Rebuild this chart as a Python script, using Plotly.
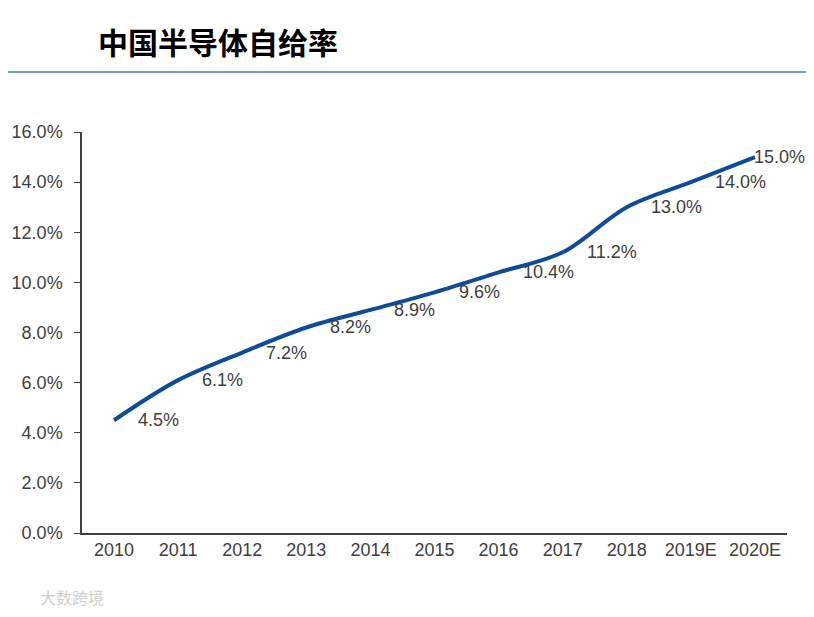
import plotly.graph_objects as go

years = ["2010", "2011", "2012", "2013", "2014", "2015", "2016", "2017", "2018", "2019E", "2020E"]
rates = [4.5, 6.1, 7.2, 8.2, 8.9, 9.6, 10.4, 11.2, 13.0, 14.0, 15.0]
label_texts = ["4.5%", "6.1%", "7.2%", "8.2%", "8.9%", "9.6%", "10.4%", "11.2%", "13.0%", "14.0%", "15.0%"]
label_shifts = [22, 22, 22, 22, 22, 22, 22, 22, 22, 22, -3]
title_text = "中国半导体自给率"
watermark_text = "大数跨境"

xi = list(range(len(years)))
# page has an 8px body margin; size the figure so page content is exactly 814x617
OFF = 8
W, H = 814 - 2 * OFF, 617 - 2 * OFF
L, T = 82 - OFF, 132 - OFF
PW, PH = 705, 401
LBL_FONT = "Liberation Sans, Arial, sans-serif"


def px(xp):
    return (xp - 82) / PW


def py(yp):
    return (533 - yp) / PH


fig = go.Figure()
fig.add_trace(go.Scatter(
    x=xi, y=rates, mode="lines",
    line=dict(color="#0E4C9A", width=4, shape="spline", smoothing=1.0),
    hoverinfo="skip", showlegend=False,
))

for i, v, t, s in zip(xi, rates, label_texts, label_shifts):
    fig.add_annotation(x=i, y=v, text=t, showarrow=False, xanchor="left",
                       yanchor="middle", xshift=s,
                       font=dict(size=18, color="#404040", family=LBL_FONT))

fig.add_annotation(xref="paper", yref="paper", x=px(96), y=py(41),
                   text="<b>" + title_text + "</b>", showarrow=False,
                   xanchor="left", yanchor="middle",
                   font=dict(size=30, color="#000000", family="Noto Sans CJK SC"))

fig.add_shape(type="line", xref="paper", yref="paper",
              x0=px(0), x1=px(830),
              y0=py(72), y1=py(72),
              line=dict(color="#4F77BE", width=1.5))

fig.add_annotation(xref="paper", yref="paper", x=px(38), y=py(597),
                   text=watermark_text, showarrow=False,
                   xanchor="left", yanchor="middle",
                   font=dict(size=16, color="#CFCFCF", family="Noto Sans CJK SC"))

fig.update_layout(
    width=W, height=H,
    margin=dict(l=L, r=W - L - PW, t=T, b=H - T - PH, autoexpand=False),
    paper_bgcolor="white", plot_bgcolor="white",
    font=dict(family=LBL_FONT, color="#404040"),
    xaxis=dict(
        range=[-0.5, len(years) - 0.5], tickvals=xi, ticktext=years,
        showline=True, linecolor="#404040", linewidth=1.5,
        ticks="", showgrid=False, zeroline=False, fixedrange=True,
        automargin=False,
        tickfont=dict(size=18, color="#404040", family=LBL_FONT),
    ),
    yaxis=dict(
        range=[0, 16], dtick=2, tickformat=".1f", ticksuffix="%",
        showline=True, linecolor="#404040", linewidth=1.5,
        ticks="outside", ticklen=6, tickcolor="#404040",
        ticklabelstandoff=8, automargin=False,
        showgrid=False, zeroline=False, fixedrange=True,
        tickfont=dict(size=18, color="#404040", family=LBL_FONT),
    ),
)

fig.write_html("out.html")
